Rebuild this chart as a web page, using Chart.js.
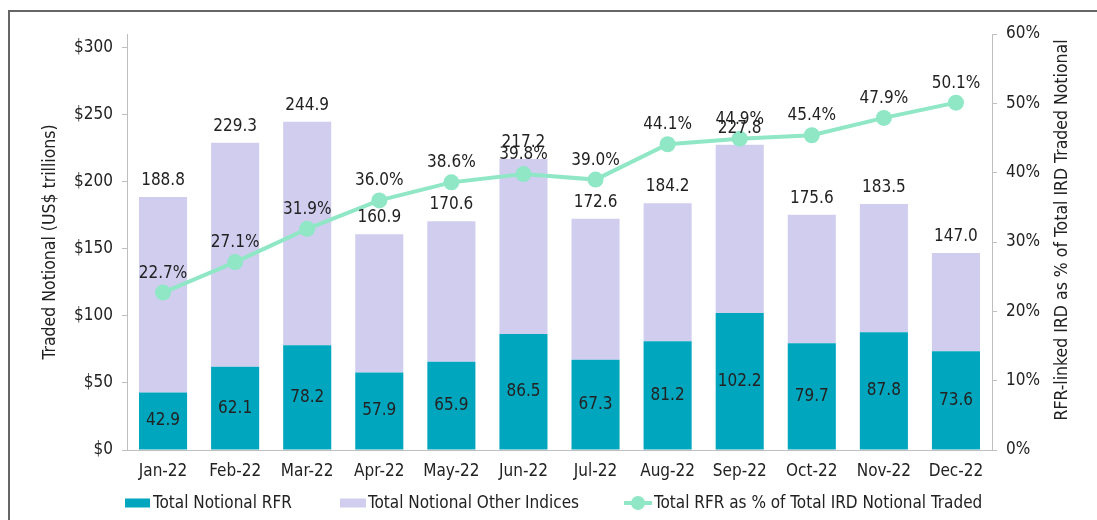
<!DOCTYPE html>
<html>
<head>
<meta charset="utf-8">
<script src="https://cdn.jsdelivr.net/npm/chart.js@4"></script>
<style>
  html, body { margin: 0; padding: 0; background: #fff; }
  #wrap { width: 1097px; height: 520px; position: relative; }
</style>
</head>
<body>
<div id="wrap"><canvas id="chart-rfr" width="1097" height="520"></canvas></div>
<script>
const months = ["Jan-22", "Feb-22", "Mar-22", "Apr-22", "May-22", "Jun-22", "Jul-22", "Aug-22", "Sep-22", "Oct-22", "Nov-22", "Dec-22"];
const rfrNotional = [42.9, 62.1, 78.2, 57.9, 65.9, 86.5, 67.3, 81.2, 102.2, 79.7, 87.8, 73.6];
const otherNotional = [145.9, 167.2, 166.7, 103.0, 104.7, 130.7, 105.3, 103.0, 125.6, 95.9, 95.7, 73.4];
const totalNotional = [188.8, 229.3, 244.9, 160.9, 170.6, 217.2, 172.6, 184.2, 227.8, 175.6, 183.5, 147.0];
const rfrShare = [22.7, 27.1, 31.9, 36.0, 38.6, 39.8, 39.0, 44.1, 44.9, 45.4, 47.9, 50.1];

const FONT = "'Liberation Sans Narrow', 'DejaVu Sans Condensed', 'Arial Narrow', sans-serif";
const TEAL = "#00a6be";
const LAVENDER = "#d0cdef";
const MINT = "#8fe7c6";
const TEXT = "#222222";
const AXIS = "#bfbfbf";
const RIGHT_TITLE = "RFR-linked IRD as % of Total IRD Traded Notional";

Chart.defaults.font.family = FONT;
Chart.defaults.color = TEXT;

// frame lines at top and left of the picture
const framePlugin = {
  id: "frame",
  beforeDraw(chart) {
    const ctx = chart.ctx;
    ctx.save();
    ctx.strokeStyle = "#666666";
    ctx.lineWidth = 2;
    ctx.beginPath();
    ctx.moveTo(9, chart.height);
    ctx.lineTo(9, 11);
    ctx.lineTo(chart.width, 11);
    ctx.stroke();
    ctx.restore();
  },
};

// right axis title reads bottom-to-top, so draw it by hand
const rightTitlePlugin = {
  id: "rightTitle",
  afterDraw(chart) {
    const ctx = chart.ctx;
    const area = chart.chartArea;
    ctx.save();
    ctx.translate(1062, (area.top + area.bottom) / 2 - 12);
    ctx.rotate(-Math.PI / 2);
    ctx.font = "17.5px " + FONT;
    ctx.fillStyle = TEXT;
    ctx.textAlign = "center";
    ctx.textBaseline = "middle";
    ctx.fillText(RIGHT_TITLE, 0, 0);
    ctx.restore();
  },
};

// value labels: rfr inside, totals above bars, % above points
const labelPlugin = {
  id: "valueLabels",
  afterDatasetsDraw(chart) {
    const ctx = chart.ctx;
    ctx.save();
    ctx.font = "17px " + FONT;
    ctx.fillStyle = TEXT;
    ctx.textAlign = "center";

    chart.getDatasetMeta(1).data.forEach((bar, i) => {
      ctx.textBaseline = "middle";
      ctx.fillText(rfrNotional[i].toFixed(1), bar.x, (bar.y + bar.base) / 2);
    });
    chart.getDatasetMeta(2).data.forEach((bar, i) => {
      ctx.textBaseline = "bottom";
      ctx.fillText(totalNotional[i].toFixed(1), bar.x, bar.y - 8);
    });
    chart.getDatasetMeta(0).data.forEach((pt, i) => {
      ctx.textBaseline = "bottom";
      ctx.fillText(rfrShare[i].toFixed(1) + "%", pt.x, pt.y - 11);
    });
    ctx.restore();
  },
};

// legend drawn under the axis
const legendPlugin = {
  id: "customLegend",
  afterDraw(chart) {
    const ctx = chart.ctx;
    const y = 503;
    ctx.save();
    ctx.font = "17px " + FONT;
    ctx.textBaseline = "middle";
    ctx.textAlign = "left";

    ctx.fillStyle = TEAL;
    ctx.fillRect(125, y - 4.5, 25, 9);
    ctx.fillStyle = TEXT;
    ctx.fillText("Total Notional RFR", 153, y + 1, 143);

    ctx.fillStyle = LAVENDER;
    ctx.fillRect(340, y - 4.5, 26, 9);
    ctx.fillStyle = TEXT;
    ctx.fillText("Total Notional Other Indices", 368, y + 1, 214);

    ctx.strokeStyle = MINT;
    ctx.lineWidth = 4;
    ctx.beginPath();
    ctx.moveTo(624, y);
    ctx.lineTo(652, y);
    ctx.stroke();
    ctx.fillStyle = MINT;
    ctx.beginPath();
    ctx.arc(638, y, 7, 0, Math.PI * 2);
    ctx.fill();
    ctx.fillStyle = TEXT;
    ctx.fillText("Total RFR as % of Total IRD Notional Traded", 654, y + 1, 341);
    ctx.restore();
  },
};

const dataRfr = {
  labels: months,
  datasets: [
    {
      type: "line",
      label: "Total RFR as % of Total IRD Notional Traded",
      data: rfrShare,
      yAxisID: "y1",
      borderColor: MINT,
      backgroundColor: MINT,
      borderWidth: 4,
      pointRadius: 8,
      pointBackgroundColor: MINT,
      pointBorderWidth: 0,
      tension: 0,
      order: 0,
    },
    {
      label: "Total Notional RFR",
      data: rfrNotional,
      backgroundColor: TEAL,
      stack: "n",
      order: 1,
    },
    {
      label: "Total Notional Other Indices",
      data: otherNotional,
      backgroundColor: LAVENDER,
      stack: "n",
      order: 1,
    },
  ],
};

const optionsRfr = {
  responsive: false,
  devicePixelRatio: 1,
  animation: false,
  layout: { padding: { top: 34, bottom: 40, left: 0, right: 0 } },
  datasets: { bar: { barPercentage: 0.667, categoryPercentage: 1 } },
  scales: {
    x: {
      stacked: true,
      grid: { display: false },
      border: { color: AXIS },
      ticks: { font: { size: 17 }, color: TEXT, padding: 3, maxRotation: 0 },
      afterFit: (s) => { s.height = 30; },
    },
    y: {
      stacked: true,
      position: "left",
      min: 0,
      max: 310.4,
      border: { color: AXIS },
      grid: { drawOnChartArea: false, color: AXIS, tickLength: 5 },
      ticks: {
        stepSize: 50,
        includeBounds: false,
        padding: 9,
        font: { size: 17 },
        color: TEXT,
        callback: (v) => "$" + v,
      },
      title: {
        display: true,
        text: "Traded Notional (US$ trillions)",
        font: { size: 17.5 },
        color: TEXT,
        padding: { top: 40, bottom: 0 },
      },
      afterFit: (s) => { s.width = 127; },
    },
    y1: {
      position: "right",
      min: 0,
      max: 60,
      border: { color: AXIS },
      grid: { drawOnChartArea: false, color: AXIS, tickLength: 5 },
      ticks: {
        stepSize: 10,
        padding: 9,
        font: { size: 17 },
        color: TEXT,
        callback: (v) => v + "%",
      },
      afterFit: (s) => { s.width = 105; },
    },
  },
  plugins: {
    legend: { display: false },
    tooltip: { enabled: false },
  },
};

new Chart(document.querySelector("#chart-rfr").getContext("2d"), {
  type: "bar",
  data: dataRfr,
  options: optionsRfr,
  plugins: [framePlugin, labelPlugin, legendPlugin, rightTitlePlugin],
});
</script>
</body>
</html>
